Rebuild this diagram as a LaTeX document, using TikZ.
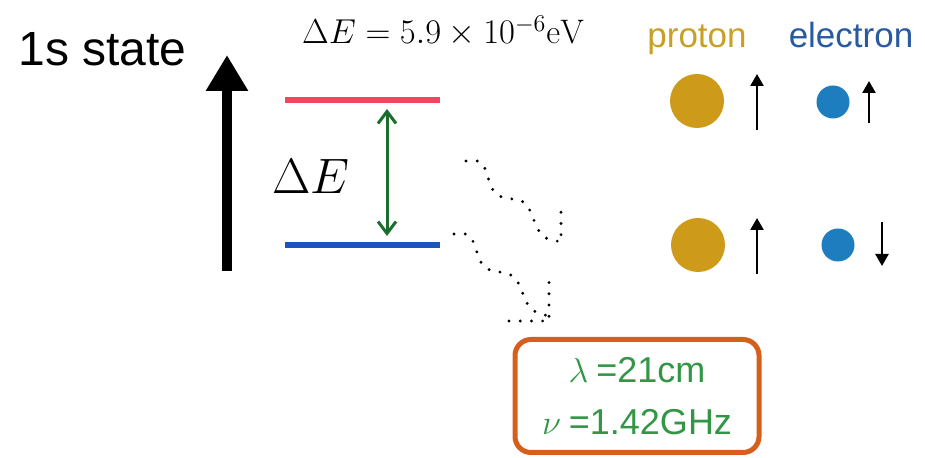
\documentclass[tikz,border=0pt]{standalone}
\usepackage{amsmath}
\usepackage{fontspec}
\usepackage{xcolor}
\usetikzlibrary{arrows.meta}
\newfontfamily\sansjp{Liberation Sans}

\definecolor{lvlred}{RGB}{240,70,95}
\definecolor{lvlblue}{RGB}{25,85,190}
\definecolor{gapgreen}{RGB}{25,110,45}
\definecolor{protcol}{RGB}{205,155,25}
\definecolor{protlab}{RGB}{200,160,40}
\definecolor{eleccol}{RGB}{30,125,190}
\definecolor{eleclab}{RGB}{40,90,160}
\definecolor{boxorange}{RGB}{215,95,30}
\definecolor{boxgreen}{RGB}{50,150,70}

\tikzset{
 level/.style={line width=3pt},
 spin/.style={line width=1.2pt,-{Triangle[length=6pt,width=6.5pt]}},
 photon/.style={line width=1.6pt,line cap=round,dash pattern=on 0pt off 5.6pt},
 lab/.style={font=\sansjp\fontsize{17.5}{20}\selectfont,anchor=base}
}

\begin{document}
\begin{tikzpicture}[x=0.5pt,y=-0.5pt,>=Stealth]
\useasboundingbox (0,0) rectangle (925,458);
\node[anchor=base west,inner sep=0pt,font=\sansjp\fontsize{24}{28}\selectfont] (state) at (18,66) {1s state};
\coordinate (ab) at (227,271);
\coordinate (at) at (227,55);
\draw[line width=5pt,-{Triangle[width=20pt,length=18pt]}] (ab) -- (at);
% levels
\coordinate (ul) at (285,100); \coordinate (ur) at (440,100);
\coordinate (ll) at (285,245); \coordinate (lr) at (440,245);
\draw[level,lvlred] (ul) -- (ur);
\draw[level,lvlblue] (ll) -- (lr);
\coordinate (gt) at (387,109); \coordinate (gb) at (387,236);
\draw[gapgreen,line width=1.5pt,{Straight Barb[length=6pt,width=9pt]}-{Straight Barb[length=6pt,width=9pt]}] (gt) -- (gb);
\node[font=\fontsize{23}{28}\selectfont] (gap) at (311,177) {$\Delta E$};
\node[font=\fontsize{17}{20}\selectfont] (val) at (443,31) {$\Delta E = 5.9\times10^{-6}\mathrm{eV}$};
% particles
\node[lab,text=protlab] (plab) at (697,48) {proton};
\node[lab,text=eleclab] (elab) at (851,48) {electron};
\node[circle,fill=protcol,minimum size=27pt,inner sep=0pt] (p1) at (697,101) {};
\node[circle,fill=protcol,minimum size=27pt,inner sep=0pt] (p2) at (698,245) {};
\node[circle,fill=eleccol,minimum size=16.5pt,inner sep=0pt] (e1) at (833,102) {};
\node[circle,fill=eleccol,minimum size=16.5pt,inner sep=0pt] (e2) at (838,245) {};
\coordinate (s1a) at (757,130); \coordinate (s1b) at (757,74);
\coordinate (s2a) at (869,123); \coordinate (s2b) at (869,81);
\coordinate (s3a) at (757,274); \coordinate (s3b) at (757,218);
\coordinate (s4a) at (882,222); \coordinate (s4b) at (882,266);
\draw[spin] (s1a) -- (s1b);
\draw[spin] (s2a) -- (s2b);
\draw[spin] (s3a) -- (s3b);
\draw[spin] (s4a) -- (s4b);
% emitted photons
\draw[photon] (466,161) -- (478,161) .. controls (490,165) and (486,193) .. (502,197)
 .. controls (510,200) and (520,198) .. (526,204) .. controls (534,214) and (536,236) .. (548,239) -- (561,242) -- (561,205);
\draw[photon] (454,234) -- (466,234) .. controls (478,238) and (475,266) .. (490,270)
 .. controls (500,273) and (509,272) .. (514,277) .. controls (524,287) and (523,307) .. (536,312) -- (548,316);
\draw[photon] (509,321) -- (549,321) -- (549,281);
\node[draw=boxorange,line width=2.5pt,rounded corners=8pt,minimum width=122pt,minimum height=56.5pt,
 align=center,text=boxgreen,font=\sansjp\fontsize{18}{26}\selectfont] (wave) at (637,396)
 {$\lambda$\hspace{4pt}=21cm\\$\nu$\hspace{4pt}=1.42GHz};
\end{tikzpicture}
\end{document}
